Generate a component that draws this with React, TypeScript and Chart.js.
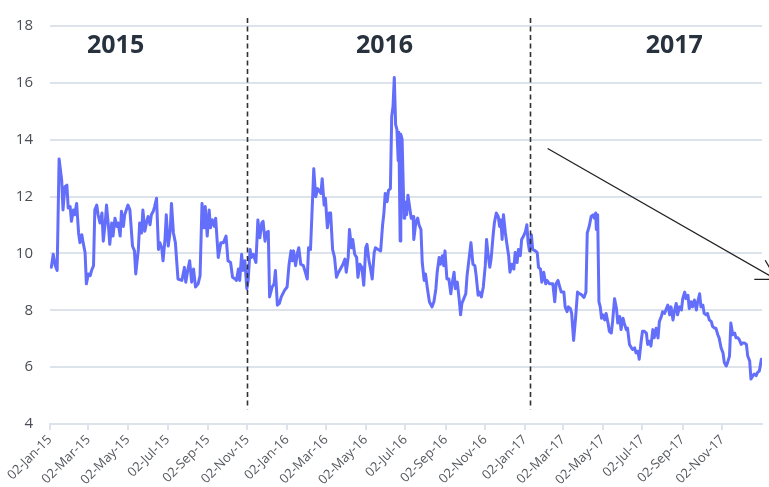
import React, { useEffect, useRef } from "react";
import { Chart, registerables } from "chart.js";

Chart.register(...registerables);

// Days since 02-Jan-2015 for each sampled point
const dayOffsets: number[] = [
  2, 5, 8, 11, 14, 18, 20, 23, 26, 28, 31, 33, 36, 38, 41, 44, 46, 49, 51, 54,
  56, 59, 62, 64, 67, 69, 72, 74, 77, 80, 82, 85, 87, 90, 92, 95, 97, 100, 103, 105,
  108, 110, 113, 115, 120, 123, 127, 130, 132, 136, 138, 141, 143, 146, 149, 151, 154, 156, 159, 161,
  164, 167, 169, 172, 174, 177, 179, 182, 185, 187, 190, 193, 197, 203, 207, 209, 212, 215, 218, 221,
  224, 228, 231, 234, 237, 239, 242, 245, 247, 250, 253, 255, 259, 263, 267,
  271, 274, 278, 281, 285, 287, 290, 292, 295, 297, 300, 303, 305, 308, 310, 313, 317, 320, 323, 326,
  328, 331, 333, 336, 338, 342, 345, 347, 350, 353, 356, 361, 365, 368, 371, 373, 375, 378, 381, 383,
  386, 390, 393, 396, 398, 401, 404, 406, 409, 412, 414, 417, 419, 422, 424, 427, 430, 432, 435, 438,
  441, 443, 447, 451, 454, 456, 459, 461, 464, 466, 469, 472, 474, 477, 480, 483, 486, 488, 491, 493,
  496, 499, 501, 505, 509, 512, 514, 516, 519, 521, 524, 526, 528, 530, 532, 534, 536, 537, 539, 540,
  542, 545, 546, 549, 551,
  556, 559, 560, 563, 566, 568, 571, 573, 576, 578, 581, 584, 588, 591, 594, 596, 599, 601, 604, 606,
  608, 611, 614, 617, 619, 622, 624, 627, 630, 632, 634, 637, 640, 642, 645, 648, 651, 654, 656, 659,
  661, 664, 667, 670, 672, 674, 677, 679, 682, 684, 687, 690, 692, 694, 696, 698, 701, 703, 706, 708,
  711, 714, 716, 719, 721, 724, 726, 729, 732, 734, 736, 738, 741, 743, 747, 750, 752, 755, 757, 760,
  763, 765, 769, 774, 777, 779, 782, 784, 787, 791, 793, 796, 798, 801, 803, 806, 809, 812, 814, 818,
  822,
  825, 827, 830, 833, 836, 838, 840, 841, 843, 845, 847, 849, 851, 854, 856, 859, 861, 864, 866, 869,
  872, 874, 877, 879, 882, 884, 887, 889, 892, 895, 897, 900, 902, 905, 907, 910, 912, 915, 918, 920,
  923, 925, 928, 930, 933, 936, 938, 941, 943, 946, 948, 951, 954, 956, 959, 961, 964, 966, 969, 972,
  974, 977, 979, 982, 984, 987, 989, 992, 995, 997, 1000, 1002, 1005, 1007, 1010, 1012, 1015, 1018, 1020, 1023,
  1025, 1028, 1030, 1033, 1036, 1038, 1041, 1043, 1046, 1048, 1051, 1054, 1056, 1059, 1061, 1064, 1066, 1069, 1072, 1074,
  1077, 1079, 1082, 1084, 1087, 1089, 1092, 1095,
];

const seriesValues: number[] = [
  9.51, 9.97, 9.58, 9.4, 13.32, 12.57, 11.53, 12.35, 12.4, 11.6, 11.65, 11.13, 11.53, 11.36, 11.76, 10.72, 10.38, 10.66, 10.38, 10.03,
  8.93, 9.28, 9.22, 9.4, 9.57, 11.53, 11.7, 11.36, 11.07, 11.42, 10.43, 11.07, 11.7, 10.95, 10.32, 11.07, 10.61, 11.24, 10.95, 11.07,
  10.61, 11.48, 10.95, 11.36, 11.7, 11.53, 10.26, 10.09, 9.28, 10.14, 11.07, 10.72, 11.53, 10.78, 11.13, 11.3, 11.01, 11.36, 11.48, 11.65,
  11.94, 10.14, 10.38, 10.2, 9.74, 10.49, 11.36, 10.26, 10.78, 11.76, 10.72, 10.38, 9.1, 9.05, 9.51, 8.99, 9.4, 9.74, 8.99, 9.45,
  8.82, 8.93, 9.22, 11.76, 10.9, 11.65, 10.61, 11.53, 10.9, 11.18, 10.95, 11.24, 9.86, 10.38, 10.38,
  10.61, 9.74, 9.68, 9.16, 9.1, 9.05, 9.45, 9.05, 9.97, 9.4, 9.74, 8.76, 9.05, 10.14, 9.86, 9.97, 9.68, 11.18, 10.55, 11.07,
  11.13, 10.43, 10.72, 10.78, 8.47, 8.82, 8.93, 9.4, 8.18, 8.24, 8.47, 8.7, 8.82, 9.62, 10.09, 9.74, 10.09, 9.57, 10.03, 10.2,
  9.62, 9.57, 9.34, 9.1, 10.2, 10.14, 11.82, 12.98, 11.99, 12.28, 12.22, 12.11, 12.63, 11.7, 11.94, 10.9, 11.42, 11.42, 10.14, 9.86,
  9.16, 9.28, 9.45, 9.62, 9.8, 9.34, 9.86, 10.84, 10.2, 10.49, 9.97, 9.86, 9.16, 9.62, 9.51, 8.88, 10.2, 10.32, 9.74, 9.51,
  9.1, 10.03, 10.2, 10.14, 10.09, 11.01, 11.42, 12.11, 11.82, 12.22, 12.28, 14.82, 15.17, 16.19, 14.53, 14.36, 13.26, 14.26, 10.44, 14.19,
  14.01, 11.24, 11.82, 11.36, 12.05,
  11.24, 11.3, 10.49, 11.07, 11.24, 11.01, 10.84, 9.68, 9.05, 9.28, 8.76, 8.3, 8.12, 8.3, 8.76, 9.34, 9.86, 9.62, 9.92, 9.57,
  10.09, 9.1, 9.1, 8.58, 8.93, 9.34, 8.76, 8.99, 8.36, 7.84, 8.24, 8.41, 8.58, 9.22, 9.8, 10.38, 9.62, 9.57, 9.22, 8.53,
  8.64, 8.47, 8.82, 9.57, 10.49, 10.03, 9.51, 9.8, 10.61, 11.07, 11.42, 11.3, 10.95, 11.18, 10.49, 11.36, 10.72, 10.38, 9.92, 9.34,
  9.62, 9.45, 10.03, 9.68, 10.14, 9.92, 10.49, 10.61, 10.78, 11.01, 10.38, 10.09, 10.66, 10.14, 10.09, 10.03, 9.51, 9.45, 8.99, 9.34,
  8.93, 9.05, 8.93, 8.93, 8.3, 8.93, 9.05, 8.88, 8.64, 8.64, 8.12, 7.95, 8.12, 8.06, 7.89, 6.94, 7.72, 8.64, 8.6, 8.55,
  8.45,
  8.64, 10.72, 10.95, 11.3, 11.36, 11.24, 11.42, 10.84, 11.36, 8.3, 8.12, 7.72, 7.84, 7.66, 7.89, 7.55, 7.26, 7.2, 7.6, 8.41,
  8.06, 7.55, 7.78, 7.32, 7.72, 7.55, 7.32, 7.37, 6.8, 6.68, 6.62, 6.68, 6.5, 6.56, 6.28, 6.91, 7.26, 7.26, 7.2, 6.8,
  6.91, 6.74, 7.32, 7.03, 7.37, 7.03, 7.6, 7.78, 7.95, 7.89, 8.01, 8.18, 7.84, 8.12, 7.66, 7.95, 8.24, 7.84, 8.12, 8.01,
  8.41, 8.64, 8.41, 8.53, 8.06, 8.3, 8.12, 8.36, 8.01, 8.3, 8.58, 8.12, 8.18, 7.89, 7.84, 7.89, 7.66, 7.6, 7.43, 7.37,
  7.37, 7.14, 7.03, 6.68, 6.5, 6.16, 6.04, 6.16, 6.39, 7.55, 7.14, 7.2, 7.03, 7.03, 6.97, 6.8, 6.85, 6.85, 6.8, 6.39,
  6.22, 5.58, 5.7, 5.76, 5.7, 5.81, 5.87, 6.28,
];

const tickLabels: string[] = [
  "02-Jan-15", "02-Mar-15", "02-May-15", "02-Jul-15", "02-Sep-15", "02-Nov-15",
  "02-Jan-16", "02-Mar-16", "02-May-16", "02-Jul-16", "02-Sep-16", "02-Nov-16",
  "02-Jan-17", "02-Mar-17", "02-May-17", "02-Jul-17", "02-Sep-17", "02-Nov-17",
];

const yTicks: number[] = [4, 6, 8, 10, 12, 14, 16, 18];

const yearLabels: string[] = ["2015", "2016", "2017"];
const yearLabelDays: number[] = [101, 515, 961];
const yearLabelValue = 17.3;

const dividerDays: number[] = [303, 739];
const dividerSpan: number[] = [18.28, 4.52];

const arrowStart: number[] = [766, 13.69];
const arrowEnd: number[] = [1118, 9.09];

const MONTHS = ["Jan", "Feb", "Mar", "Apr", "May", "Jun", "Jul", "Aug", "Sep", "Oct", "Nov", "Dec"];
const BASE = Date.UTC(2015, 0, 2);
function labelToDay(lbl: string): number {
  const [d, m, y] = lbl.split("-");
  const t = Date.UTC(2000 + parseInt(y, 10), MONTHS.indexOf(m), parseInt(d, 10));
  return Math.round((t - BASE) / 86400000);
}
const tickDays = tickLabels.map(labelToDay);

const FONT = "'Open Sans', 'Noto Sans', sans-serif";

const overlayPlugin = {
  id: "overlay",
  afterDatasetsDraw(chart: any) {
    const { ctx, scales } = chart;
    const x = scales.x;
    const y = scales.y;
    ctx.save();
    // dashed dividers
    ctx.strokeStyle = "#2d3136";
    ctx.lineWidth = 1.6;
    ctx.setLineDash([5, 3.5]);
    for (const d of dividerDays) {
      const px = Math.round(x.getPixelForValue(d)) + 0.5;
      ctx.beginPath();
      ctx.moveTo(px, y.getPixelForValue(dividerSpan[0]));
      ctx.lineTo(px, y.getPixelForValue(dividerSpan[1]));
      ctx.stroke();
    }
    ctx.setLineDash([]);
    // year labels
    ctx.fillStyle = "#28323e";
    ctx.font = `bold 25px ${FONT}`;
    ctx.textAlign = "center";
    ctx.textBaseline = "middle";
    yearLabels.forEach((t, i) => {
      ctx.fillText(t, x.getPixelForValue(yearLabelDays[i]), y.getPixelForValue(yearLabelValue));
    });
    // arrow
    const x0 = x.getPixelForValue(arrowStart[0]);
    const y0 = y.getPixelForValue(arrowStart[1]);
    const x1 = x.getPixelForValue(arrowEnd[0]);
    const y1 = y.getPixelForValue(arrowEnd[1]);
    ctx.strokeStyle = "#222222";
    ctx.lineWidth = 1.3;
    ctx.beginPath();
    ctx.moveTo(x0, y0);
    ctx.lineTo(x1, y1);
    const ang = Math.atan2(y1 - y0, x1 - x0);
    const len = 22;
    for (const s of [-1, 1]) {
      const a = ang + Math.PI + (s * Math.PI) / 6;
      ctx.moveTo(x1, y1);
      ctx.lineTo(x1 + len * Math.cos(a), y1 + len * Math.sin(a));
    }
    ctx.stroke();
    ctx.restore();
  },
};

export default function App() {
  const ref = useRef<HTMLCanvasElement | null>(null);
  useEffect(() => {
    if (!ref.current) return;
    const chart = new Chart(ref.current, {
      type: "line",
      data: {
        datasets: [
          {
            data: dayOffsets.map((d, i) => ({ x: d, y: seriesValues[i] })),
            borderColor: "#636efa",
            borderWidth: 3,
            pointRadius: 0,
            tension: 0,
            borderJoinStyle: "round",
            borderCapStyle: "round",
          },
        ],
      },
      options: {
        animation: false,
        responsive: false,
        devicePixelRatio: 1,
        layout: { padding: { top: 20, right: 7, left: 0, bottom: 0 } },
        plugins: { legend: { display: false }, tooltip: { enabled: false } },
        scales: {
          x: {
            type: "linear",
            min: 0,
            max: 1096,
            afterBuildTicks: (scale: any) => {
              scale.ticks = tickDays.map((v) => ({ value: v }));
            },
            afterFit: (scale: any) => {
              scale.height = 63;
            },
            ticks: {
              autoSkip: false,
              minRotation: 45,
              maxRotation: 45,
              padding: 2,
              color: "#54585e",
              font: { family: FONT, size: 13 },
              callback: (_v: any, i: number) => tickLabels[i],
            },
            grid: {
              display: true,
              drawOnChartArea: false,
              drawTicks: true,
              tickLength: 6,
              color: "#dde3ea",
              lineWidth: 2,
            },
            border: { display: true, color: "#dde3ea", width: 2 },
          },
          y: {
            min: 4,
            max: 18,
            afterBuildTicks: (scale: any) => {
              scale.ticks = yTicks.map((v) => ({ value: v }));
            },
            afterFit: (scale: any) => {
              scale.width = 50;
            },
            ticks: {
              padding: 17,
              color: "#4a4e54",
              font: { family: FONT, size: 15 },
            },
            grid: { color: "#dde3ea", lineWidth: 2, drawTicks: false },
            border: { display: false },
          },
        },
      },
      plugins: [overlayPlugin],
    });
    return () => chart.destroy();
  }, []);
  return (
    <canvas
      ref={ref}
      width={769}
      height={487}
      style={{ position: "absolute", left: 0, top: 0, width: 769, height: 487, display: "block" }}
    />
  );
}
